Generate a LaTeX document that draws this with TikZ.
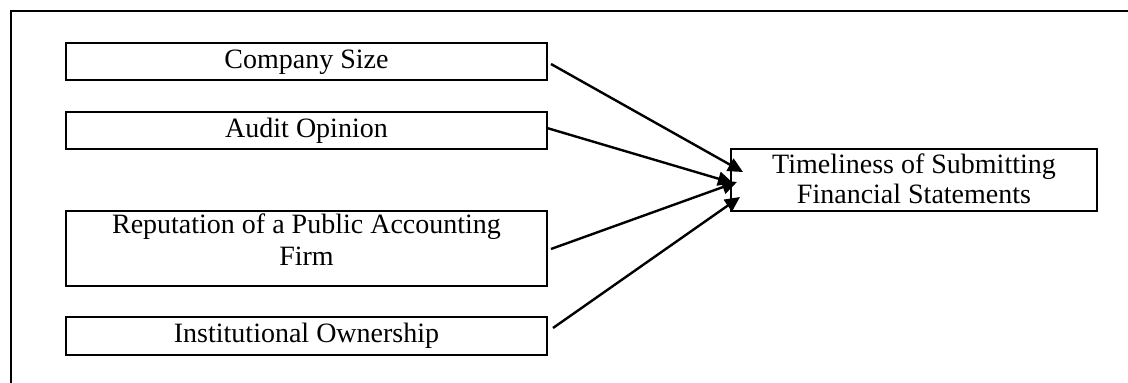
\documentclass[tikz,border=0pt]{standalone}
\usepackage{fontspec}
\setmainfont{Liberation Serif}
\usetikzlibrary{arrows.meta,calc}
\begin{document}
\begin{tikzpicture}[x=1pt,y=-1pt,
  box/.style={draw=black,line width=2.4pt,anchor=north west,inner sep=0pt,outer sep=0pt},
  lbl/.style={font=\fontsize{28}{30}\selectfont,inner sep=0pt,align=center,anchor=base},
  arr/.style={line width=2.4pt,-{Triangle[length=15pt,width=14pt]}}]
\useasboundingbox (0,0) rectangle (1128,383);
\coordinate (fa) at (11,383);
\coordinate (fb) at (11,11);
\coordinate (fc) at (1130,11);
\draw[line width=2.4pt] (fa) -- (fb) -- (fc);
% boxes
\node[box,minimum width=481pt,minimum height=37pt] (cs) at (66,43) {};
\node[box,minimum width=481pt,minimum height=37pt] (ao) at (66,112) {};
\node[box,minimum width=481pt,minimum height=75pt] (rp) at (66,211) {};
\node[box,minimum width=481pt,minimum height=38pt] (io) at (66,317) {};
\node[box,minimum width=366pt,minimum height=62pt] (tg) at (731,149) {};
% labels (multi-line labels: base anchor is the last line)
\node[lbl] (tcs) at ($(cs.north)+(0,25)$) {Company Size};
\node[lbl] (tao) at ($(ao.north)+(0,25)$) {Audit Opinion};
\node[lbl,font=\fontsize{28}{32}\selectfont] (trp) at ($(rp.north)+(0,54.5)$) {Reputation of a Public Accounting\\Firm};
\node[lbl] (tio) at ($(io.north)+(0,25)$) {Institutional Ownership};
\node[lbl] (ttg) at ($(tg.north)+(0,54)$) {Timeliness of Submitting\\Financial Statements};
% connectors
\coordinate (s1) at ($(cs.east)+(4,2.5)$);
\coordinate (e1) at ($(tg.west)+(12,-8)$);
\coordinate (s2) at ($(ao.east)+(0,-2.5)$);
\coordinate (e2) at ($(tg.west)+(2,3)$);
\coordinate (s3) at ($(rp.east)+(4,0.5)$);
\coordinate (e3) at ($(tg.west)+(6,2)$);
\coordinate (s4) at ($(io.east)+(6,-8)$);
\coordinate (e4) at ($(tg.west)+(9,17)$);
\draw[arr] (s1) -- (e1);
\draw[arr] (s2) -- (e2);
\draw[arr] (s3) -- (e3);
\draw[arr] (s4) -- (e4);
\end{tikzpicture}
\end{document}
